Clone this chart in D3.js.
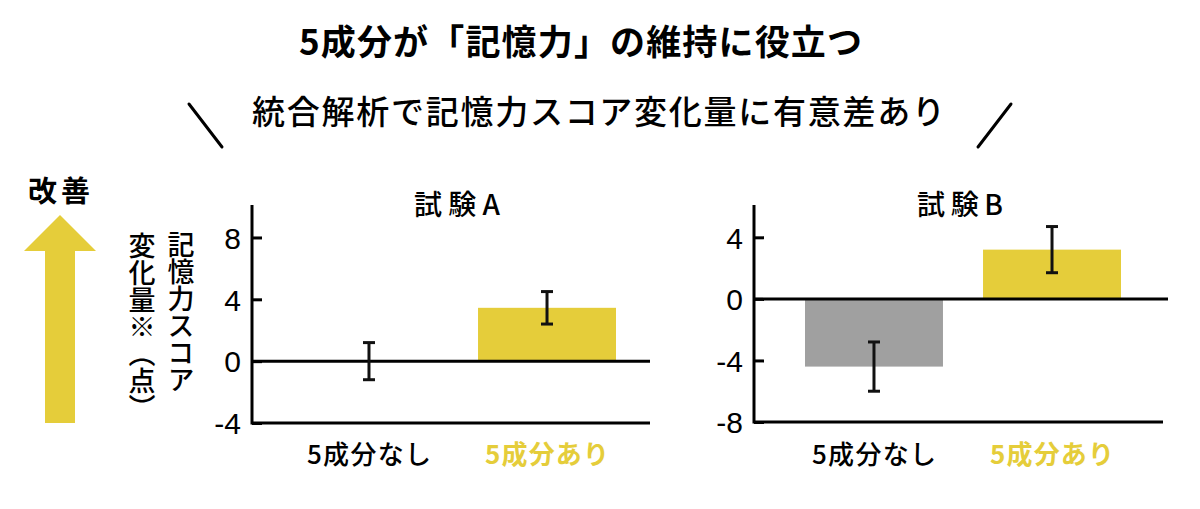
<!DOCTYPE html>
<html><head><meta charset="utf-8">
<script src="https://cdn.jsdelivr.net/npm/d3@7"></script>
<style>
body{margin:0;background:#fff;}
svg{display:block;font-family:"Noto Sans CJK JP","Noto Sans",sans-serif;}
</style></head>
<body><svg id="c" width="1200" height="509"></svg>
<script>
// ---- data ----
const title = "5成分が「記憶力」の維持に役立つ";
const subtitle = "統合解析で記憶力スコア変化量に有意差あり";
const categories = ["5成分なし", "5成分あり"];
const trialNames = ["試験A", "試験B"];
const trialAMeans = [0, 3.45];
const trialAErrors = [1.2, 1.05];
const trialBMeans = [-4.4, 3.2];
const trialBErrors = [1.6, 1.5];
const trialATicks = [-4, 0, 4, 8];
const trialBTicks = [-8, -4, 0, 4];
const trialADomain = [-4, 10.1];
const trialBDomain = [-8, 6.1];
const yLabelCol1 = "記憶力スコア";
const yLabelCol2 = "変化量※（点）";
const improveLabel = "改善";

const YELLOW = "#E5CD3A", GRAY = "#A0A0A0";
const svg = d3.select("#c");

// titles
svg.append("text").attr("x", 299).attr("y", 55).attr("font-size", 35).attr("font-weight", 700)
  .attr("textLength", 563).attr("lengthAdjust", "spacing").text(title);
svg.append("text").attr("x", 252).attr("y", 124).attr("font-size", 33).attr("font-weight", 500)
  .attr("textLength", 693).attr("lengthAdjust", "spacing").text(subtitle);
svg.append("line").attr("x1", 189).attr("y1", 104).attr("x2", 222).attr("y2", 147)
  .attr("stroke", "#000").attr("stroke-width", 3).attr("stroke-linecap", "round");
svg.append("line").attr("x1", 1011).attr("y1", 104).attr("x2", 978).attr("y2", 147)
  .attr("stroke", "#000").attr("stroke-width", 3).attr("stroke-linecap", "round");

// left improvement arrow & label
svg.append("text").attr("x", 28).attr("y", 202)
  .attr("font-size", 29).attr("font-weight", 700)
  .attr("textLength", 62).attr("lengthAdjust", "spacing").text(improveLabel);
svg.append("path").attr("fill", YELLOW)
  .attr("d", "M60,215 L96,251 L75,251 L75,423 L45,423 L45,251 L24,251 Z");
svg.append("text").attr("x", 181).attr("y", 231).attr("font-size", 27).attr("font-weight", 500)
  .style("writing-mode", "vertical-rl").text(yLabelCol1);
svg.append("text").attr("x", 142).attr("y", 232).attr("font-size", 27).attr("font-weight", 500)
  .style("writing-mode", "vertical-rl").text(yLabelCol2);

// panels
const panels = [
  {name: trialNames[0], means: trialAMeans, errs: trialAErrors, ticks: trialATicks, domain: trialADomain,
   axisX: 252, zeroEnd: 650, baseEnd: 650, bottom: 423, top: 205, bandOff: 48, titleX: 457},
  {name: trialNames[1], means: trialBMeans, errs: trialBErrors, ticks: trialBTicks, domain: trialBDomain,
   axisX: 754, zeroEnd: 1168, baseEnd: 1163, bottom: 422, top: 205, bandOff: 51, titleX: 960}
];

panels.forEach(p => {
  const g = svg.append("g");
  const y = d3.scaleLinear().domain(p.domain).range([p.bottom, p.top]);
  const x = d3.scaleBand().domain(categories)
    .range([p.axisX + p.bandOff, p.axisX + p.bandOff + 316]).paddingInner(0.225).paddingOuter(0);

  // bars
  g.selectAll("rect.bar").data(categories).join("rect")
    .attr("x", d => x(d)).attr("width", x.bandwidth())
    .attr("y", (d, i) => y(Math.max(0, p.means[i])))
    .attr("height", (d, i) => Math.abs(y(p.means[i]) - y(0)))
    .attr("fill", (d, i) => i === 0 ? GRAY : YELLOW);

  // axis
  const axis = d3.axisLeft(y).tickValues(p.ticks).tickSize(-10).tickPadding(11).tickFormat(d => String(d));
  const ag = g.append("g").attr("transform", `translate(${p.axisX},0)`).call(axis);
  ag.select(".domain").remove();
  ag.selectAll(".tick line").attr("stroke", "#000").attr("stroke-width", 3);
  ag.selectAll(".tick text").attr("font-size", 30).attr("font-family", "Liberation Sans, Arial, sans-serif")
    .attr("fill", "#000").attr("dy", "0.36em");
  g.append("line").attr("x1", p.axisX).attr("x2", p.axisX).attr("y1", p.top).attr("y2", p.bottom + 1.5)
    .attr("stroke", "#000").attr("stroke-width", 3);
  g.append("line").attr("x1", p.axisX).attr("x2", p.baseEnd).attr("y1", p.bottom).attr("y2", p.bottom)
    .attr("stroke", "#000").attr("stroke-width", 3);
  g.append("line").attr("x1", p.axisX).attr("x2", p.zeroEnd).attr("y1", y(0)).attr("y2", y(0))
    .attr("stroke", "#000").attr("stroke-width", 3);

  // error bars
  categories.forEach((c, i) => {
    const cx = x(c) + x.bandwidth() / 2;
    const hi = y(p.means[i] + p.errs[i]), lo = y(p.means[i] - p.errs[i]);
    g.append("line").attr("x1", cx).attr("x2", cx).attr("y1", hi).attr("y2", lo)
      .attr("stroke", "#111").attr("stroke-width", 3);
    [hi, lo].forEach(v => g.append("line").attr("x1", cx - 6).attr("x2", cx + 6).attr("y1", v).attr("y2", v)
      .attr("stroke", "#111").attr("stroke-width", 3));
  });

  // category labels
  g.selectAll("text.cat").data(categories).join("text")
    .attr("x", d => x(d) + x.bandwidth() / 2 - 62).attr("y", 464)
    .attr("font-size", 26).attr("font-weight", (d, i) => i === 0 ? 500 : 700)
    .attr("fill", (d, i) => i === 0 ? "#000" : YELLOW)
    .attr("textLength", 124).attr("lengthAdjust", "spacing").text(d => d);

  // panel title
  g.append("text").attr("x", p.titleX - 43).attr("y", 215).attr("font-size", 28).attr("font-weight", 500)
    .attr("textLength", 86).attr("lengthAdjust", "spacing").text(p.name);
});
</script></body></html>
